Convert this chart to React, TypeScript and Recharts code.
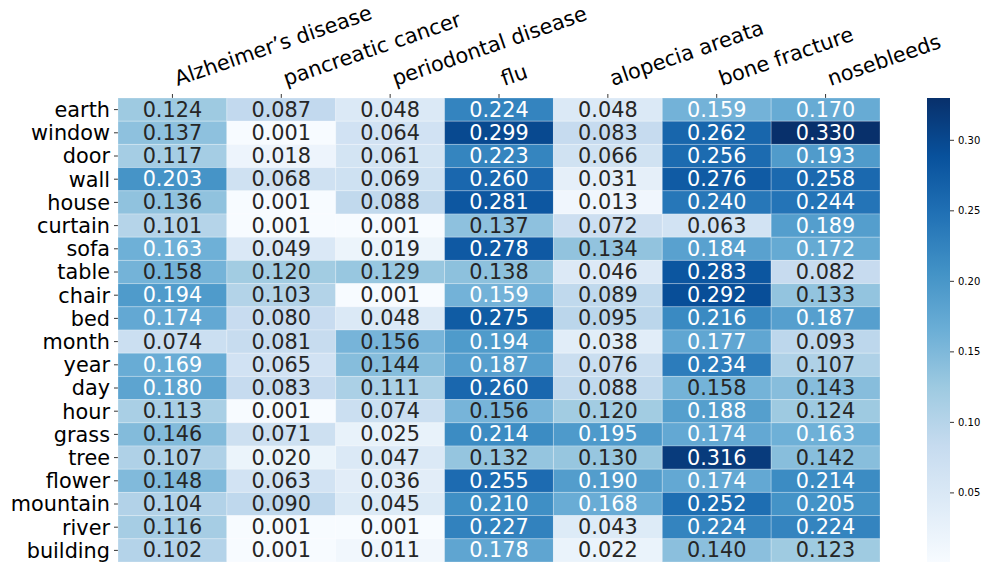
import React from "react";
import { ScatterChart, Scatter, XAxis, YAxis, BarChart, Bar } from "recharts";

const rows = [
  "earth", "window", "door", "wall", "house", "curtain", "sofa", "table", "chair", "bed",
  "month", "year", "day", "hour", "grass", "tree", "flower", "mountain", "river", "building",
];

const diseases = [
  "Alzheimer’s disease", "pancreatic cancer", "periodontal disease", "flu",
  "alopecia areata", "bone fracture", "nosebleeds",
];

// one column of scores per disease, in the same order as `rows`
const alzheimers = [0.124, 0.137, 0.117, 0.203, 0.136, 0.101, 0.163, 0.158, 0.194, 0.174, 0.074, 0.169, 0.180, 0.113, 0.146, 0.107, 0.148, 0.104, 0.116, 0.102];
const pancreatic = [0.087, 0.001, 0.018, 0.068, 0.001, 0.001, 0.049, 0.120, 0.103, 0.080, 0.081, 0.065, 0.083, 0.001, 0.071, 0.020, 0.063, 0.090, 0.001, 0.001];
const periodontal = [0.048, 0.064, 0.061, 0.069, 0.088, 0.001, 0.019, 0.129, 0.001, 0.048, 0.156, 0.144, 0.111, 0.074, 0.025, 0.047, 0.036, 0.045, 0.001, 0.011];
const flu = [0.224, 0.299, 0.223, 0.260, 0.281, 0.137, 0.278, 0.138, 0.159, 0.275, 0.194, 0.187, 0.260, 0.156, 0.214, 0.132, 0.255, 0.210, 0.227, 0.178];
const alopecia = [0.048, 0.083, 0.066, 0.031, 0.013, 0.072, 0.134, 0.046, 0.089, 0.095, 0.038, 0.076, 0.088, 0.120, 0.195, 0.130, 0.190, 0.168, 0.043, 0.022];
const boneFracture = [0.159, 0.262, 0.256, 0.276, 0.240, 0.063, 0.184, 0.283, 0.292, 0.216, 0.177, 0.234, 0.158, 0.188, 0.174, 0.316, 0.174, 0.252, 0.224, 0.140];
const nosebleeds = [0.170, 0.330, 0.193, 0.258, 0.244, 0.189, 0.172, 0.082, 0.133, 0.187, 0.093, 0.107, 0.143, 0.124, 0.163, 0.142, 0.214, 0.205, 0.224, 0.123];

const columns = [alzheimers, pancreatic, periodontal, flu, alopecia, boneFracture, nosebleeds];

const V_MIN = 0.001;
const V_MAX = 0.33;
const colorbarTicks = [0.05, 0.1, 0.15, 0.2, 0.25, 0.3];

// ColorBrewer "Blues" (9 class), light -> dark
const BLUES = ["#f7fbff", "#deebf7", "#c6dbef", "#9ecae1", "#6baed6", "#4292c6", "#2171b5", "#08519c", "#08306b"];

const FONT = "'DejaVu Sans', Verdana, sans-serif";
const LABEL_SIZE = 20.8;
const PLOT_W = 762;
const PLOT_H = 464;
const CELL_W = PLOT_W / diseases.length;
const CELL_H = PLOT_H / rows.length;

function hexToRgb(h: string) {
  return [1, 3, 5].map((i) => parseInt(h.slice(i, i + 2), 16));
}

function blues(v: number) {
  const t = Math.min(1, Math.max(0, (v - V_MIN) / (V_MAX - V_MIN))) * (BLUES.length - 1);
  const i = Math.min(BLUES.length - 2, Math.floor(t));
  const f = t - i;
  const a = hexToRgb(BLUES[i]);
  const b = hexToRgb(BLUES[i + 1]);
  const c = a.map((x, k) => Math.round(x + (b[k] - x) * f));
  return { css: `rgb(${c[0]},${c[1]},${c[2]})`, rgb: c };
}

// same rule seaborn uses for annotation colour
function luminance(rgb: number[]) {
  const lin = rgb.map((c) => {
    const s = c / 255;
    return s <= 0.03928 ? s / 12.92 : Math.pow((s + 0.055) / 1.055, 2.4);
  });
  return 0.2126 * lin[0] + 0.7152 * lin[1] + 0.0722 * lin[2];
}

const cells = columns.flatMap((col, ci) =>
  col.map((value, ri) => ({ x: ci + 0.5, y: ri + 0.5, value }))
);

const colorbarData = [{ k: "cbar", range: [V_MIN, V_MAX] }];

function HeatCell(props: { cx?: number; cy?: number; payload?: { value: number } }) {
  const { cx, cy, payload } = props;
  if (cx == null || cy == null || !payload) return null;
  const col = blues(payload.value);
  const textColor = luminance(col.rgb) > 0.408 ? "#262626" : "#ffffff";
  return (
    <g>
      <rect
        x={cx - CELL_W / 2}
        y={cy - CELL_H / 2}
        width={CELL_W}
        height={CELL_H}
        fill={col.css}
        stroke="rgba(255,255,255,0.25)"
        strokeWidth={1}
      />
      <text
        x={cx}
        y={cy}
        textAnchor="middle"
        dominantBaseline="central"
        fontSize={LABEL_SIZE}
        fontFamily={FONT}
        fill={textColor}
      >
        {payload.value.toFixed(3)}
      </text>
    </g>
  );
}

function ColumnTick(props: { x?: number; y?: number; payload?: { value: number } }) {
  const { x, payload } = props;
  if (x == null || !payload) return null;
  const label = diseases[Math.floor(payload.value)];
  return (
    <g transform={`translate(${x + 5},86)`}>
      <text transform="rotate(-19)" textAnchor="start" fontSize={LABEL_SIZE} fontFamily={FONT} fill="#000">
        {label}
      </text>
    </g>
  );
}

const colTicks = diseases.map((_, i) => i + 0.5);
const rowTicks = rows.map((_, i) => i + 0.5);

export default function App() {
  return (
    <div style={{ position: "absolute", left: 0, top: 0, width: 985, height: 569, background: "#fff" }}>
      <ScatterChart width={985} height={569} margin={{ top: 0, right: 105, bottom: 7, left: 0 }}>
        <XAxis
          type="number"
          dataKey="x"
          orientation="top"
          domain={[0, diseases.length]}
          ticks={colTicks}
          height={98}
          axisLine={false}
          tickSize={4}
          tickLine={{ stroke: "#000", strokeWidth: 0.8 }}
          tick={<ColumnTick />}
          interval={0}
        />
        <YAxis
          type="number"
          dataKey="y"
          reversed
          domain={[0, rows.length]}
          ticks={rowTicks}
          width={118}
          axisLine={false}
          tickSize={4}
          tickMargin={4}
          tickLine={{ stroke: "#000", strokeWidth: 0.8 }}
          tickFormatter={(v: number) => rows[Math.floor(v)]}
          tick={{ fontSize: LABEL_SIZE, fontFamily: FONT, fill: "#000" }}
          interval={0}
        />
        <Scatter data={cells} shape={<HeatCell />} isAnimationActive={false} />
      </ScatterChart>

      {/* colour bar: a single range bar spanning the colour scale, with its own axis */}
      <div style={{ position: "absolute", left: 927, top: 98 }}>
        <BarChart
          width={63}
          height={PLOT_H}
          data={colorbarData}
          margin={{ top: 0, right: 0, bottom: 0, left: 0 }}
          barCategoryGap={0}
        >
          <defs>
            <linearGradient id="bluesBar" x1="0" y1="1" x2="0" y2="0">
              {BLUES.map((c, i) => (
                <stop key={c} offset={`${(i / (BLUES.length - 1)) * 100}%`} stopColor={c} />
              ))}
            </linearGradient>
          </defs>
          <XAxis dataKey="k" hide />
          <YAxis
            orientation="right"
            type="number"
            domain={[V_MIN, V_MAX]}
            allowDataOverflow
            ticks={colorbarTicks}
            width={40}
            axisLine={false}
            tickSize={4}
            tickMargin={4}
            tickLine={{ stroke: "#000", strokeWidth: 0.8 }}
            tickFormatter={(v: number) => v.toFixed(2)}
            tick={{ fontSize: 10, fontFamily: FONT, fill: "#000" }}
          />
          <Bar dataKey="range" fill="url(#bluesBar)" isAnimationActive={false} />
        </BarChart>
      </div>
    </div>
  );
}
